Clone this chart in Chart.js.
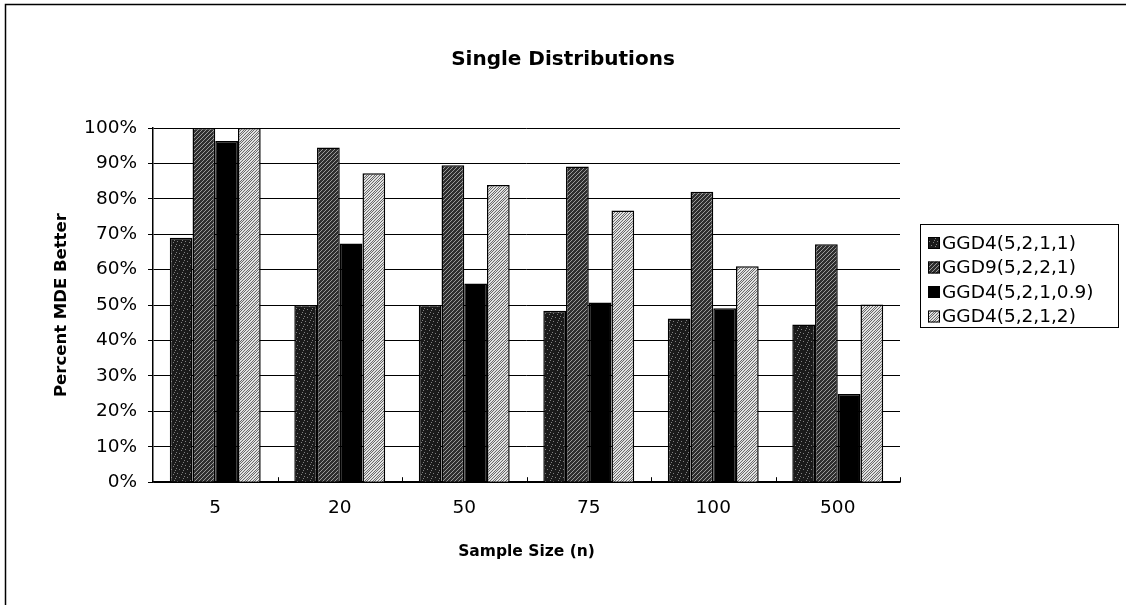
<!DOCTYPE html>
<html>
<head>
<meta charset="utf-8">
<script src="https://cdn.jsdelivr.net/npm/chart.js@4.4.1/dist/chart.umd.min.js"></script>
<style>
  html, body { margin: 0; padding: 0; background: #fff; }
  #wrap { width: 1126px; height: 605px; }
</style>
</head>
<body>
<div id="wrap"><canvas id="chart" width="1126" height="605"></canvas></div>
<script>
const CATEGORIES = ['5', '20', '50', '75', '100', '500'];
const SERIES_NAMES = ['GGD4(5,2,1,1)', 'GGD9(5,2,2,1)', 'GGD4(5,2,1,0.9)', 'GGD4(5,2,1,2)'];
const GGD4_1_1 = [69, 50, 50, 48.4, 46.2, 44.5];
const GGD9_2_1 = [100, 94.5, 89.5, 89.1, 82, 67.2];
const GGD4_1_09 = [96.3, 67.4, 56.1, 50.7, 49.1, 24.9];
const GGD4_1_2 = [100, 87.2, 83.9, 76.7, 61, 50.2];
const Y_TICKS = [0, 10, 20, 30, 40, 50, 60, 70, 80, 90, 100];

const FONT = "'DejaVu Sans', 'Liberation Sans', sans-serif";

// small tiles for the scanned-looking fills
function makePattern(draw) {
  const c = document.createElement('canvas');
  c.width = 8;
  c.height = 8;
  const g = c.getContext('2d');
  draw(g);
  return g.createPattern(c, 'repeat');
}

const speckle = makePattern((g) => {
  g.fillStyle = '#1a1a1a';
  g.fillRect(0, 0, 8, 8);
  g.fillStyle = '#808080';
  [[1, 1], [5, 2], [3, 5], [7, 6], [0, 4], [6, 0]].forEach(([x, y]) => g.fillRect(x, y, 1, 1));
});

const darkHatch = makePattern((g) => {
  g.fillStyle = '#2e2e2e';
  g.fillRect(0, 0, 8, 8);
  g.fillStyle = '#9a9a9a';
  for (let i = 0; i < 8; i++) {
    g.fillRect(i, 7 - i, 1, 1);
    g.fillRect((i + 4) % 8, 7 - i, 1, 1);
  }
});

const lightHatch = makePattern((g) => {
  g.fillStyle = '#e2e2e2';
  g.fillRect(0, 0, 8, 8);
  g.fillStyle = '#6a6a6a';
  for (let i = 0; i < 8; i++) {
    g.fillRect(i, 7 - i, 1, 1);
    g.fillRect((i + 3) % 8, 7 - i, 1, 1);
    g.fillRect((i + 6) % 8, 7 - i, 1, 1);
  }
});

const FILLS = [speckle, darkHatch, '#000000', lightHatch];

// outer frame, inside tick marks on the x axis, and the boxed legend
const decorations = {
  id: 'decorations',
  afterDraw(chart) {
    const ctx = chart.ctx;
    const xs = chart.scales.x;
    const area = chart.chartArea;
    ctx.save();
    ctx.strokeStyle = '#000';
    ctx.lineWidth = 1.5;
    ctx.beginPath();
    ctx.moveTo(5.5, 605);
    ctx.lineTo(5.5, 4.5);
    ctx.lineTo(1126, 4.5);
    ctx.stroke();

    ctx.lineWidth = 1;
    const step = xs.width / CATEGORIES.length;
    for (let i = 1; i <= CATEGORIES.length; i++) {
      const x = Math.round(xs.getPixelForValue(i - 1) + step / 2) + 0.5;
      ctx.beginPath();
      ctx.moveTo(x, area.bottom);
      ctx.lineTo(x, area.bottom - 5);
      ctx.stroke();
    }

    const box = { left: 920.5, top: 224.5, width: 198, height: 103 };
    ctx.strokeRect(box.left, box.top, box.width, box.height);
    ctx.font = `18.5px ${FONT}`;
    ctx.textBaseline = 'middle';
    chart.data.datasets.forEach((ds, i) => {
      const y = 243 + i * 24.5;
      ctx.fillStyle = ds.backgroundColor;
      ctx.fillRect(928, y - 6, 12, 12);
      ctx.strokeRect(928.5, y - 5.5, 11, 11);
      ctx.fillStyle = '#000';
      ctx.fillText(ds.label, 942, y + 1);
    });
    ctx.restore();
  }
};

new Chart(document.getElementById('chart'), {
  type: 'bar',
  data: {
    labels: CATEGORIES,
    datasets: [GGD4_1_1, GGD9_2_1, GGD4_1_09, GGD4_1_2].map((values, i) => ({
      label: SERIES_NAMES[i],
      data: values,
      backgroundColor: FILLS[i],
      borderColor: '#000',
      borderWidth: 1.5,
      barPercentage: 1,
      categoryPercentage: 0.73
    }))
  },
  options: {
    responsive: false,
    animation: false,
    layout: { padding: { left: 0, right: 0, top: 0, bottom: 44 } },
    scales: {
      x: {
        grid: { display: false, drawTicks: false, tickLength: 0 },
        border: { color: '#000', width: 1.5 },
        ticks: { color: '#000', font: { family: FONT, size: 18.5 }, padding: 15 },
        title: {
          display: true,
          text: 'Sample Size (n)',
          color: '#000',
          font: { family: FONT, size: 15.5, weight: 'bold' },
          padding: { top: 8, bottom: 0 }
        }
      },
      y: {
        min: 0,
        max: 100,
        afterBuildTicks(scale) {
          scale.ticks = Y_TICKS.map((v) => ({ value: v }));
        },
        afterFit(scale) {
          scale.width = 153;
        },
        grid: { color: '#000', lineWidth: 1, tickLength: 5 },
        border: { color: '#000', width: 1.5 },
        ticks: {
          color: '#000',
          font: { family: FONT, size: 18.5 },
          padding: 11,
          callback: (v) => v + '%'
        },
        title: {
          display: true,
          text: 'Percent MDE Better',
          color: '#000',
          font: { family: FONT, size: 16.5, weight: 'bold' },
          padding: { top: 52, bottom: 0 }
        }
      },
      // empty right-hand axis that only keeps room for the legend box
      spacer: {
        type: 'linear',
        position: 'right',
        grid: { display: false, drawTicks: false },
        border: { display: false },
        ticks: { display: false },
        afterFit(scale) {
          scale.width = 226;
        }
      }
    },
    plugins: {
      legend: { display: false },
      tooltip: { enabled: false },
      title: {
        display: true,
        text: 'Single Distributions',
        color: '#000',
        font: { family: FONT, size: 20, weight: 'bold' },
        padding: { top: 48, bottom: 56 }
      }
    }
  },
  plugins: [decorations]
});
</script>
</body>
</html>
